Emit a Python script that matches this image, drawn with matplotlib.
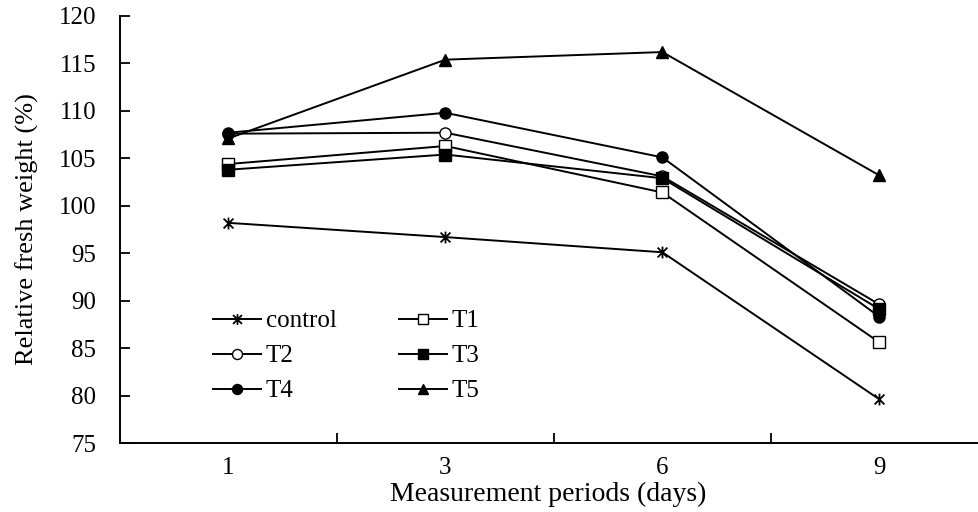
import numpy as np
import matplotlib
matplotlib.use("Agg")
import matplotlib.pyplot as plt
from matplotlib.path import Path

# ---------------------------------------------------------------------------
# Data
# ---------------------------------------------------------------------------
periods = ["1", "3", "6", "9"]
control = [98.2, 96.7, 95.1, 79.6]
t1 = [104.4, 106.3, 101.4, 85.6]
t2 = [107.6, 107.7, 103.1, 89.6]
t3 = [103.8, 105.4, 102.9, 89.1]
t4 = [107.7, 109.8, 105.1, 88.3]
t5 = [107.1, 115.4, 116.2, 103.2]

plt.rcParams["font.family"] = ["Liberation Serif", "DejaVu Serif"]

# asterisk-like marker (x with vertical bar), like Excel's "star"
star = Path([(-1, -1), (1, 1), (-1, 1), (1, -1), (0, -1.2), (0, 1.2)],
            [Path.MOVETO, Path.LINETO, Path.MOVETO, Path.LINETO,
             Path.MOVETO, Path.LINETO])

fig = plt.figure(figsize=(9.79, 5.12), dpi=100)
ax = fig.add_axes([120 / 979, 1 - 443 / 512, 857 / 979, 427 / 512])

x = np.arange(1, len(periods) + 1)
series = [
    ("control", control, dict(marker=star, mfc="none", ms=8.5, mew=1.3)),
    ("T1", t1, dict(marker="s", mfc="white", ms=8)),
    ("T2", t2, dict(marker="o", mfc="white", ms=8)),
    ("T3", t3, dict(marker="s", mfc="black", ms=8)),
    ("T4", t4, dict(marker="o", mfc="black", ms=8)),
    ("T5", t5, dict(marker="^", mfc="black", ms=8)),
]
lines = {}
for name, vals, kw in series:
    lines[name], = ax.plot(x, vals, color="black", lw=1.4, mec="black",
                           label=name, **kw)

ax.set_xlim(0.5, 4.45)
ax.set_ylim(75, 120)
ax.set_yticks(np.arange(75, 121, 5))
ax.set_xticks(x)
ax.set_xticklabels(periods)
ax.set_xticks([1.5, 2.5, 3.5], minor=True)
ax.tick_params(axis="x", which="major", length=0, pad=10, labelsize=18)
ax.tick_params(axis="x", which="minor", length=7, direction="in", width=1.3)
ax.tick_params(axis="y", length=7, direction="in", width=1.3, labelsize=18, pad=17)

for s in ("top", "right"):
    ax.spines[s].set_visible(False)
for s in ("left", "bottom"):
    ax.spines[s].set_linewidth(1.4)

ax.set_xlabel("Measurement periods (days)", fontsize=20, labelpad=2)
ax.set_ylabel("Relative fresh weight (%)", fontsize=19, labelpad=14)

# legend is filled row by row in the reference: reorder for column-major fill
order = ["control", "T2", "T4", "T1", "T3", "T5"]
ax.legend([lines[n] for n in order], order, ncol=2, frameon=False,
          loc="upper left", bbox_to_anchor=(0.097, 0.335),
          fontsize=18, handlelength=1.9, handletextpad=0.2, columnspacing=2.5,
          labelspacing=0.5, borderaxespad=0, markerscale=0.9)

fig.savefig("out.png", dpi=100)
